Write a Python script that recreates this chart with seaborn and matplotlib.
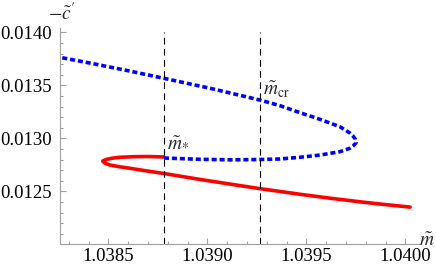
import numpy as np
import pandas as pd
import matplotlib
matplotlib.use('Agg')
import matplotlib.pyplot as plt
import seaborn as sns
from matplotlib.ticker import MultipleLocator, FormatStrFormatter

# ramo estável (vermelho, contínuo): do m* pela ponta esquerda até a direita
x_estavel = [1.038781, 1.038711, 1.038635, 1.038559, 1.038519, 1.038493,
             1.038478, 1.038472, 1.038476, 1.038488, 1.038509, 1.038559,
             1.038610, 1.038685, 1.038781, 1.038963, 1.039115, 1.039266,
             1.039468, 1.039620, 1.039771, 1.039897, 1.040024]
y_estavel = [0.012824, 0.012828, 0.012827, 0.012821, 0.012812, 0.012802,
             0.012792, 0.012784, 0.012776, 0.012761, 0.012748, 0.012731,
             0.012717, 0.012695, 0.012668, 0.012612, 0.012568, 0.012525,
             0.012472, 0.012435, 0.012401, 0.012375, 0.012351]

# ramo instável (azul, pontilhado): do m* até a ponta direita e de volta
x_instavel = [1.038781, 1.038963, 1.039115, 1.039266, 1.039367, 1.039468,
              1.039569, 1.039670, 1.039720, 1.039736, 1.039751, 1.039748,
              1.039736, 1.039720, 1.039670, 1.039569, 1.039468, 1.039367,
              1.039266, 1.039014, 1.038781, 1.038599, 1.038418, 1.038256]
y_instavel = [0.012814, 0.012802, 0.012797, 0.012800, 0.012805, 0.012821,
              0.012842, 0.012874, 0.012906, 0.012927, 0.012958, 0.012989,
              0.013022, 0.013050, 0.013109, 0.013179, 0.013242, 0.013308,
              0.013361, 0.013472, 0.013566, 0.013638, 0.013706, 0.013764]

# linhas verticais tracejadas: m* e m_cr
x_marcas = [1.038781, 1.039266]
rotulos_marcas = [r'$\tilde{m}_{*}$', r'$\tilde{m}_{\rm cr}$']
y_rotulos = [0.012960, 0.013460]

y_ticks = [0.0125, 0.0130, 0.0135, 0.0140]
x_ticks = [1.0385, 1.0390, 1.0395, 1.0400]

x_lim = (1.038256, 1.040074)
y_lim = (0.0120, 0.014038)

sns.set_style('ticks')
plt.rcParams['font.family'] = ['Liberation Serif', 'DejaVu Serif']
plt.rcParams['mathtext.fontset'] = 'stix'

fig = plt.figure(figsize=(4.36, 2.69), dpi=100)
ax = fig.add_axes([60 / 436, 1 - 244.3 / 269, 360 / 436, 216 / 269])

df_est = pd.DataFrame({'m': x_estavel, 'c': y_estavel})
df_inst = pd.DataFrame({'m': x_instavel, 'c': y_instavel})

sns.lineplot(data=df_est, x='m', y='c', sort=False, estimator=None,
             color='#ff0000', lw=2.6, ax=ax)
sns.lineplot(data=df_inst, x='m', y='c', sort=False, estimator=None,
             color='#0000ff', lw=2.6, ax=ax, linestyle=(0, (1.4, 0.8)))

ax.vlines(x_marcas, y_lim[0], 0.0140, colors='black', lw=0.8,
          linestyles=(0, (6, 4)))
for xm, txt, yt in zip(x_marcas, rotulos_marcas, y_rotulos):
    ax.text(xm + 0.000015, yt, txt, fontsize=14, ha='left', va='center')

ax.set_xlim(*x_lim)
ax.set_ylim(*y_lim)
ax.set_xlabel('')
ax.set_ylabel('')

ax.set_xticks(x_ticks)
ax.set_yticks(y_ticks)
ax.xaxis.set_minor_locator(MultipleLocator(0.0001))
ax.yaxis.set_minor_locator(MultipleLocator(0.0001))
ax.xaxis.set_major_formatter(FormatStrFormatter('%.4f'))
ax.yaxis.set_major_formatter(FormatStrFormatter('%.4f'))

for s in ['top', 'right']:
    ax.spines[s].set_visible(False)
for s in ['left', 'bottom']:
    ax.spines[s].set_color('#a0a0a0')
    ax.spines[s].set_linewidth(0.8)

ax.tick_params(which='both', direction='in', color='#a0a0a0', width=0.8,
               labelsize=13.5, labelcolor='black')
ax.tick_params(which='major', length=4.5)
ax.tick_params(which='minor', length=2.5)
ax.tick_params(axis='y', pad=6)
ax.tick_params(axis='x', pad=3)

fig.text(62 / 436, 1 - 13 / 269, r"$-\tilde{c}'$", fontsize=14,
         ha='center', va='center')
fig.text(427 / 436, 1 - 241 / 269, r'$\tilde{m}$', fontsize=14,
         ha='center', va='center')

fig.savefig('out.png', dpi=100)
